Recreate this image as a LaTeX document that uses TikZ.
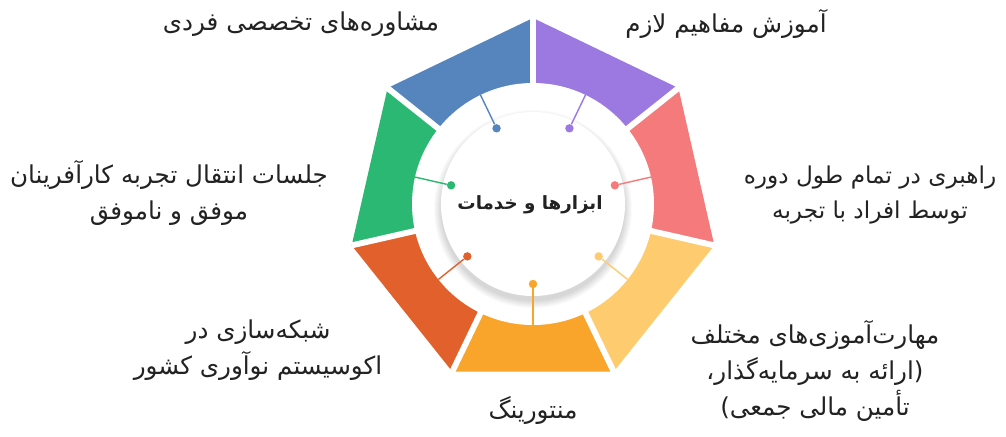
\documentclass[tikz,border=0pt]{standalone}
\usepackage{fontspec}
\newfontfamily\farsi[Script=Arabic]{DejaVu Sans}
\TeXXeTstate=1

\definecolor{segpurple}{HTML}{9B79E1}
\definecolor{segpink}{HTML}{F47A7B}
\definecolor{segyellow}{HTML}{FECB6F}
\definecolor{segorange}{HTML}{F9A42A}
\definecolor{segred}{HTML}{E2602C}
\definecolor{seggreen}{HTML}{2BB872}
\definecolor{segblue}{HTML}{5685BE}
\definecolor{textgray}{HTML}{222222}

\tikzset{
  itemlabel/.style={font=\farsi\fontsize{17.5}{25.5}\selectfont, text=textgray, align=center, inner sep=0pt},
  tickdot/.style={circle, fill=#1, draw=none, inner sep=0pt, minimum size=0.21cm},
  tickline/.style={draw=#1, line width=1pt},
  gapline/.style={white, line width=4.2pt}
}

\begin{document}
\begin{tikzpicture}[x=0.025cm, y=0.025cm]
  \useasboundingbox (-533,-232) rectangle (473,204);

  % Vertici dell'ettagono
  \coordinate (O)  at (0,0);
  \coordinate (V1) at (90:186);
  \coordinate (V2) at (38.57:186);
  \coordinate (V3) at (-12.86:186);
  \coordinate (V4) at (-64.29:186);
  \coordinate (V5) at (-115.71:186);
  \coordinate (V6) at (-167.14:186);
  \coordinate (V7) at (141.43:186);

  % Settori colorati
  \fill[segpurple] (O) -- (V1) -- (V2) -- cycle;
  \fill[segpink]   (O) -- (V2) -- (V3) -- cycle;
  \fill[segyellow] (O) -- (V3) -- (V4) -- cycle;
  \fill[segorange] (O) -- (V4) -- (V5) -- cycle;
  \fill[segred]    (O) -- (V5) -- (V6) -- cycle;
  \fill[seggreen]  (O) -- (V6) -- (V7) -- cycle;
  \fill[segblue]   (O) -- (V7) -- (V1) -- cycle;

  % Tagli bianchi tra i settori
  \draw[gapline] (O) -- (V1);
  \draw[gapline] (O) -- (V2);
  \draw[gapline] (O) -- (V3);
  \draw[gapline] (O) -- (V4);
  \draw[gapline] (O) -- (V5);
  \draw[gapline] (O) -- (V6);
  \draw[gapline] (O) -- (V7);

  % Corona bianca e ombra del cerchio centrale
  \fill[white] (O) circle (121);
  \foreach \r in {92,93,...,99}
    \fill[black, opacity=0.02] (0,-5) circle (\r);

  % Cerchio centrale
  \node[circle, fill=white, minimum size=4.6cm, inner sep=0pt] (hub) at (0,0) {};
  \node[font=\farsi\bfseries\fontsize{13}{16}\selectfont, text=textgray] (hubtext) at (-3,-1) {\beginR ابزارها و خدمات\endR};

  % Punti e trattini
  \node[tickdot=segpurple] (d1) at (64.29:84) {};
  \coordinate (e1) at (64.29:121);
  \draw[tickline=segpurple] (d1) -- (e1);
  \node[tickdot=segpink] (d2) at (12.86:84) {};
  \coordinate (e2) at (12.86:121);
  \draw[tickline=segpink] (d2) -- (e2);
  \node[tickdot=segyellow] (d3) at (-38.57:84) {};
  \coordinate (e3) at (-38.57:121);
  \draw[tickline=segyellow] (d3) -- (e3);
  \node[tickdot=segorange] (d4) at (-90:80) {};
  \coordinate (e4) at (-90:121);
  \draw[tickline=segorange] (d4) -- (e4);
  \node[tickdot=segred] (d5) at (-141.43:84) {};
  \coordinate (e5) at (-141.43:121);
  \draw[tickline=segred] (d5) -- (e5);
  \node[tickdot=seggreen] (d6) at (167.14:84) {};
  \coordinate (e6) at (167.14:121);
  \draw[tickline=seggreen] (d6) -- (e6);
  \node[tickdot=segblue] (d7) at (115.71:84) {};
  \coordinate (e7) at (115.71:121);
  \draw[tickline=segblue] (d7) -- (e7);

  % Etichette
  \node[itemlabel] (concepts) at (193,180) {\beginR آموزش مفاهیم لازم\endR};
  \node[itemlabel, font=\farsi\fontsize{16.5}{25.5}\selectfont] (guidance) at (337,9) {\beginR راهبری در تمام طول دوره\endR\\\beginR توسط افراد با تجربه\endR};
  \node[itemlabel] (skills) at (282,-167) {\beginR مهارت^^^^200cآموزی^^^^200cهای مختلف\endR\\\beginR (ارائه به سرمایه^^^^200cگذار،\endR\\\beginR تأمین مالی جمعی)\endR};
  \node[itemlabel] (mentoring) at (0,-206) {\beginR منتورینگ\endR};
  \node[itemlabel] (networking) at (-275,-146) {\beginR شبکه^^^^200cسازی در\endR\\\beginR اکوسیستم نوآوری کشور\endR};
  \node[itemlabel] (sessions) at (-364,11) {\beginR جلسات انتقال تجربه کارآفرینان\endR\\\beginR موفق و ناموفق\endR};
  \node[itemlabel] (consulting) at (-232,180) {\beginR مشاوره^^^^200cهای تخصصی فردی\endR};
\end{tikzpicture}
\end{document}
